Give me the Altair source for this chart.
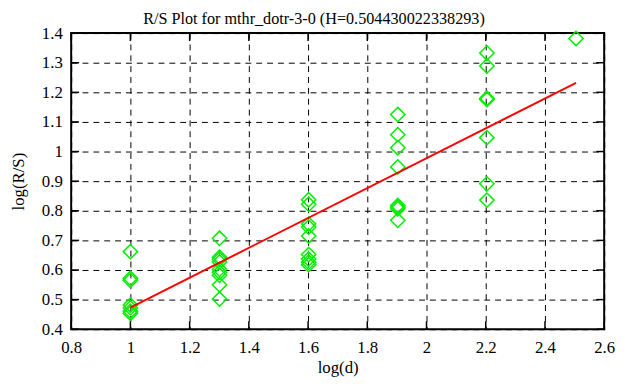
import altair as alt
import pandas as pd

# log(d) groups and log(R/S) values
x_groups = [1.0, 1.301, 1.602, 1.903, 2.204, 2.505]
y_d10 = [0.662, 0.572, 0.565, 0.482, 0.472, 0.461, 0.454]
y_d20 = [0.707, 0.643, 0.636, 0.627, 0.602, 0.592, 0.582, 0.550, 0.502]
y_d40 = [0.837, 0.822, 0.755, 0.745, 0.715, 0.652, 0.637, 0.626, 0.618]
y_d80 = [1.125, 1.057, 1.013, 0.948, 0.818, 0.812, 0.807, 0.768]
y_d160 = [1.333, 1.289, 1.180, 1.176, 1.047, 0.891, 0.836]
y_d320 = [1.382]

# fitted line endpoints
fit_x = [1.0, 2.505]
fit_y = [0.473, 1.232]

x_ticks = [0.8, 1.0, 1.2, 1.4, 1.6, 1.8, 2.0, 2.2, 2.4, 2.6]
y_ticks = [0.4, 0.5, 0.6, 0.7, 0.8, 0.9, 1.0, 1.1, 1.2, 1.3, 1.4]

title_text = ["R/S Plot for mthr_dotr-3-0 (H=0.504430022338293)"]

rows = []
for gx, ys in zip(x_groups, [y_d10, y_d20, y_d40, y_d80, y_d160, y_d320]):
    for yv in ys:
        rows.append({"x": gx, "y": yv})
pts = pd.DataFrame(rows)
fit = pd.DataFrame({"x": fit_x, "y": fit_y})
xt = pd.DataFrame({"x": x_ticks})
yt = pd.DataFrame({"y": y_ticks})
tt = pd.DataFrame({"t": title_text})

FONT = "Liberation Serif"
xscale = alt.Scale(domain=[0.8, 2.6], nice=False, zero=False)
yscale = alt.Scale(domain=[0.4, 1.4], nice=False, zero=False)

xaxis = alt.Axis(values=x_ticks, format="~g", title="log(d)", grid=True,
                 ticks=False, domain=False, labelPadding=11, titlePadding=4,
                 labelFlush=False, labelOverlap=False)
yaxis = alt.Axis(values=y_ticks, format="~g", title="log(R/S)", grid=True,
                 ticks=False, domain=False, labelPadding=9, titlePadding=14,
                 labelFlush=False, labelOverlap=False)

X = alt.X("x:Q", scale=xscale, axis=xaxis)
Y = alt.Y("y:Q", scale=yscale, axis=yaxis)

points = alt.Chart(pts).mark_point(
    shape="diamond", size=210, filled=False, color="#00ee00", strokeWidth=1.5, opacity=1
).encode(x=X, y=Y)

line = alt.Chart(fit).mark_line(color="#ff0000", strokeWidth=2).encode(x=X, y=Y)

tick_style = dict(color="black", strokeWidth=1.5)
xt_bottom = alt.Chart(xt).mark_rule(**tick_style).encode(
    x=X, y=alt.value(300), y2=alt.value(292))
xt_top = alt.Chart(xt).mark_rule(**tick_style).encode(
    x=X, y=alt.value(0), y2=alt.value(8))
yt_left = alt.Chart(yt).mark_rule(**tick_style).encode(
    y=Y, x=alt.value(0), x2=alt.value(8))
yt_right = alt.Chart(yt).mark_rule(**tick_style).encode(
    y=Y, x=alt.value(540), x2=alt.value(532))

title = alt.Chart(tt).mark_text(
    font=FONT, fontSize=16.4, color="black", align="center", baseline="alphabetic"
).encode(text="t:N", x=alt.value(246), y=alt.value(-9))

chart = alt.layer(points, line, xt_bottom, xt_top, yt_left, yt_right, title).properties(
    width=540, height=300,
    autosize=alt.AutoSizeParams(type="none"),
    padding={"left": 64, "top": 23, "right": 14, "bottom": 48},
    background="white",
).configure_axis(
    labelFont=FONT, labelFontSize=17, labelColor="black",
    titleFont=FONT, titleFontSize=17, titleColor="black", titleFontWeight="normal",
    gridColor="black", gridDash=[6, 5], gridWidth=1, gridOpacity=1,
).configure_view(
    stroke="black", strokeWidth=2
)

chart.save("out.html", embed_options={"renderer": "svg", "actions": False})
